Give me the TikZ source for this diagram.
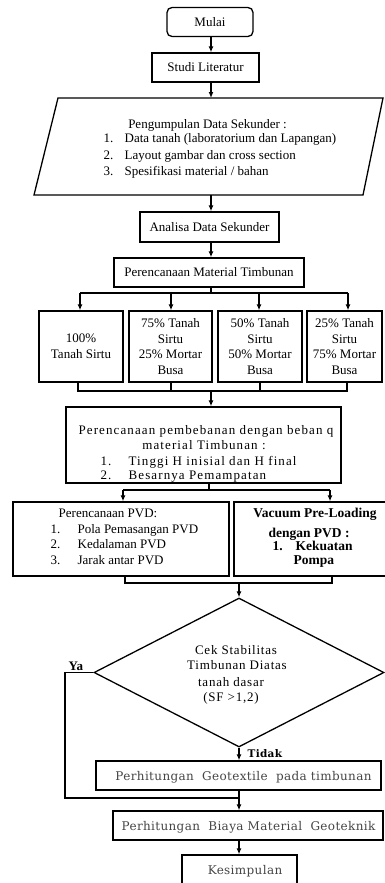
\documentclass[tikz,border=0pt]{standalone}
\usepackage{fontspec}
\setmainfont{Liberation Serif}
\newfontfamily\lsfont[LetterSpace=6]{Liberation Serif}
\newfontfamily\lsbfont[LetterSpace=8.5]{Liberation Serif}
\newfontfamily\camfont[LetterSpace=3]{DejaVu Serif}
\usetikzlibrary{arrows.meta,shapes.geometric}
\definecolor{camgray}{HTML}{454545}
\begin{document}
\begin{tikzpicture}[x=1pt,y=-1pt,line width=1.3pt,
  bx/.style={draw,rectangle,inner sep=0pt,align=center,font=\fontsize{13}{15.6}\selectfont},
  tx/.style={inner sep=0pt,font=\fontsize{13}{15.6}\selectfont},
  btx/.style={inner sep=0pt,font=\bfseries\fontsize{13.5}{15.6}\selectfont},
  ltx/.style={inner sep=0pt,font=\lsfont\fontsize{13}{15.6}\selectfont},
  lbtx/.style={inner sep=0pt,font=\lsbfont\fontsize{13}{15.6}\selectfont},
  ctx/.style={inner sep=0pt,text=camgray,font=\camfont\fontsize{12}{15.6}\selectfont},
  arr/.style={-{Latex[length=6pt,width=5pt]}}]
\useasboundingbox (0,0) rectangle (385,883);
% top
\node[bx,minimum width=86pt,minimum height=29pt,rounded corners=5pt] (mulai) at (210,22) {Mulai};
\node[bx,minimum width=107pt,minimum height=29pt] (studi) at (205.5,67.5) {Studi Literatur};
\coordinate (ax) at (211,0);
\coordinate (pa) at (58,98);
\coordinate (pb) at (383,98);
\coordinate (pc) at (363,195);
\coordinate (pd) at (34,195);
\draw (pa) -- (pb) -- (pc) -- (pd) -- cycle;
\coordinate (ptop) at (211,98);
\coordinate (pbot) at (211,195);
\node[tx,anchor=base] (p0) at (207.5,128.5) {Pengumpulan Data Sekunder :};
\node[tx,anchor=base west] (p1) at (103,142.5) {\makebox[21pt][l]{1.}Data tanah (laboratorium dan Lapangan)};
\node[tx,anchor=base west] (p2) at (103,159.5) {\makebox[21pt][l]{2.}Layout gambar dan cross section};
\node[tx,anchor=base west] (p3) at (103,175.5) {\makebox[21pt][l]{3.}Spesifikasi material / bahan};
\node[bx,minimum width=139pt,minimum height=30pt] (anal) at (209.5,227) {Analisa Data Sekunder};
\node[bx,minimum width=190pt,minimum height=29pt] (mat) at (209,272.5) {Perencanaan Material Timbunan};
\draw[arr] (mulai.south -| ax) -- (studi.north -| ax);
\draw[arr] (studi.south -| ax) -- (ptop);
\draw[arr] (pbot) -- (anal.north -| ax);
\draw[arr] (anal.south -| ax) -- (mat.north -| ax);
% four boxes
\node[bx,minimum width=84pt,minimum height=71pt] (b1) at (81,346.5) {100\%\\Tanah Sirtu};
\node[bx,minimum width=83pt,minimum height=71pt] (b2) at (170.5,346.5) {75\% Tanah\\Sirtu\\25\% Mortar\\Busa};
\node[bx,minimum width=84pt,minimum height=71pt] (b3) at (260,346.5) {50\% Tanah\\Sirtu\\50\% Mortar\\Busa};
\node[bx,minimum width=75pt,minimum height=71pt] (b4) at (344.5,346.5) {25\% Tanah\\Sirtu\\75\% Mortar\\Busa};
\coordinate (s1) at (211,293);
\coordinate (s1a) at (80,293);
\coordinate (s1b) at (171,293);
\coordinate (s1c) at (259,293);
\coordinate (s1d) at (348,293);
\draw (mat.south -| ax) -- (s1);
\draw (s1a) -- (s1d);
\draw[arr] (s1a) -- (s1a |- b1.north);
\draw[arr] (s1b) -- (s1b |- b2.north);
\draw[arr] (s1c) -- (s1c |- b3.north);
\draw[arr] (s1d) -- (s1d |- b4.north);
\coordinate (m1a) at (78,391);
\coordinate (m1b) at (171,391);
\coordinate (m1c) at (260,391);
\coordinate (m1d) at (347,391);
\coordinate (m1) at (211,391);
\draw (m1a |- b1.south) -- (m1a) -- (m1d) -- (m1d |- b4.south);
\draw (m1b |- b2.south) -- (m1b);
\draw (m1c |- b3.south) -- (m1c);
% pembebanan
\node[draw,rectangle,inner sep=0pt,minimum width=275pt,minimum height=76pt] (pemb) at (203.5,445) {};
\draw[arr] (m1) -- (m1 |- pemb.north);
\node[lbtx,anchor=base] (e0) at (206,434.5) {Perencanaan pembebanan dengan beban q};
\node[lbtx,anchor=base] (e1) at (204,449.5) {material Timbunan :};
\node[lbtx,anchor=base west] (e2) at (100,465.5) {\makebox[28pt][l]{1.}Tinggi H inisial dan H final};
\node[lbtx,anchor=base west] (e3) at (100,479.5) {\makebox[28pt][l]{2.}Besarnya Pemampatan};
% PVD
\node[draw,rectangle,inner sep=0pt,minimum width=216pt,minimum height=74pt] (pvd) at (121,539) {};
\node[draw,rectangle,inner sep=0pt,minimum width=154pt,minimum height=74pt] (vac) at (311,539) {};
\coordinate (s2) at (209,490);
\coordinate (s2a) at (123,490);
\coordinate (s2b) at (330,490);
\draw (pemb.south -| s2) -- (s2);
\draw (s2a) -- (s2b);
\draw[arr] (s2a) -- (s2a |- pvd.north);
\draw[arr] (s2b) -- (s2b |- vac.north);
\node[tx,anchor=base] (v0) at (108,517.5) {Perencanaan PVD:};
\node[tx,anchor=base west] (v1) at (50,533.5) {\makebox[27pt][l]{1.}Pola Pemasangan PVD};
\node[tx,anchor=base west] (v2) at (50,548.5) {\makebox[27pt][l]{2.}Kedalaman PVD};
\node[tx,anchor=base west] (v3) at (50,564.5) {\makebox[27pt][l]{3.}Jarak antar PVD};
\node[btx,anchor=base] (w0) at (315,517.5) {Vacuum Pre-Loading};
\node[btx,anchor=base] (w1) at (309,537.5) {dengan PVD :};
\node[btx,anchor=base west] (w2) at (272,550.5) {\makebox[23pt][l]{1.}Kekuatan};
\node[btx,anchor=base west] (w3) at (293,564.5) {Pompa};
\coordinate (m2a) at (125,583);
\coordinate (m2b) at (332,583);
\coordinate (m2) at (239,583);
\draw (m2a |- pvd.south) -- (m2a) -- (m2b) -- (m2b |- vac.south);
% diamond
\node[draw,diamond,inner sep=0pt,minimum width=290pt,minimum height=149pt] (dia) at (239,672.5) {};
\draw[arr] (m2) -- (dia.north);
\node[ltx,anchor=base] (d0) at (236,654.5) {Cek Stabilitas};
\node[ltx,anchor=base] (d1) at (237,669.5) {Timbunan Diatas};
\node[ltx,anchor=base] (d2) at (231,686.5) {tanah dasar};
\node[ltx,anchor=base] (d3) at (231,701.5) {(SF >1,2)};
\node[btx,anchor=base west,font=\bfseries\fontsize{13}{15.6}\selectfont] (ya) at (68,670.5) {Ya};
% bottom
\node[draw,rectangle,inner sep=0pt,minimum width=285pt,minimum height=29pt] (geo) at (238.5,775.5) {};
\node[ctx,anchor=base] (geot) at (243.5,780) {Perhitungan\ \ Geotextile\ \ pada timbunan};
\node[draw,rectangle,inner sep=0pt,minimum width=270pt,minimum height=29pt] (bia) at (248,825.5) {};
\node[ctx,anchor=base] (biat) at (248.5,830) {Perhitungan\ \ Biaya Material\ \ Geoteknik};
\node[draw,rectangle,inner sep=0pt,minimum width=115pt,minimum height=29pt] (kes) at (239.5,869.5) {};
\node[ctx,anchor=base] (kest) at (245,874) {Kesimpulan};
\coordinate (ya1) at (65,672.5);
\coordinate (ya2) at (65,798);
\coordinate (ya3) at (239,798);
\draw (dia.west) -- (ya1) -- (ya2) -- (ya3);
\draw[arr] (dia.south) -- (geo.north -| dia.south);
\node[inner sep=0pt,anchor=base west,font=\camfont\bfseries\fontsize{10.5}{12}\selectfont] (tidak) at (247,757) {Tidak};
\draw[arr] (geo.south -| dia.south) -- (bia.north -| dia.south);
\draw[arr] (bia.south -| dia.south) -- (kes.north -| dia.south);
\end{tikzpicture}
\end{document}
